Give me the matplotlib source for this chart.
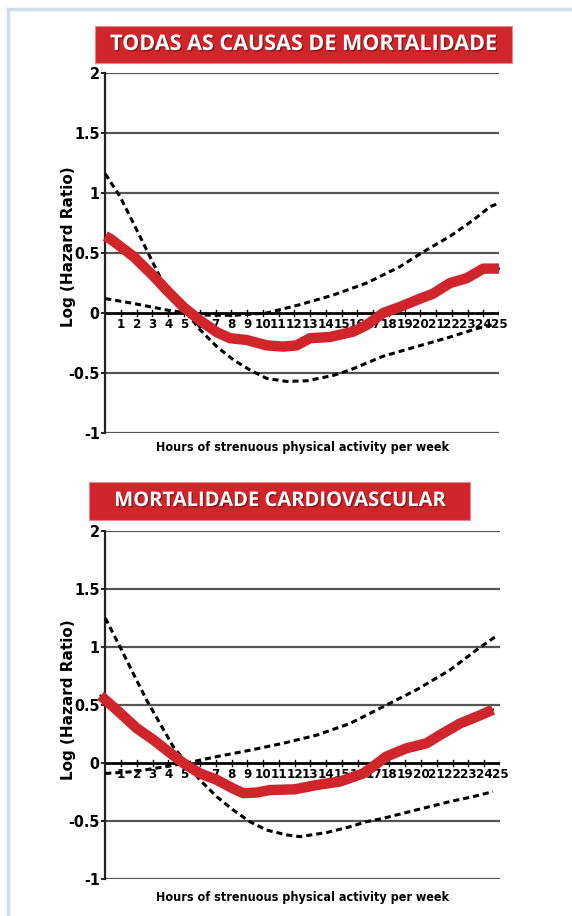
import matplotlib
matplotlib.use('Agg')
import matplotlib.pyplot as plt
import matplotlib.patheffects as pe
from matplotlib.patches import Rectangle
from matplotlib.lines import Line2D

# Panel titles
titles = ['TODAS AS CAUSAS DE MORTALIDADE', 'MORTALIDADE CARDIOVASCULAR']
x_label = 'Hours of strenuous physical activity per week'
y_label = 'Log (Hazard Ratio)'
x_ticks = list(range(1, 26))
y_ticks = [2, 1.5, 1, 0.5, 0, -0.5, -1]
y_tick_labels = ['2', '1.5', '1', '0.5', '0', '-0.5', '-1']

# All-cause mortality: estimate (red) and confidence limits (dashed)
all_est_x = [0, 0.3, 1.8, 3.05, 3.9, 4.96, 6.0, 7.08, 7.92, 8.98, 10.25, 11.3, 12.15, 13.0, 14.27, 15.75, 16.6, 17.65, 18.7, 20.0, 20.8, 21.9, 22.95, 24.0, 25]
all_est_y = [0.64, 0.62, 0.47, 0.31, 0.19, 0.05, -0.06, -0.16, -0.21, -0.225, -0.27, -0.28, -0.27, -0.21, -0.20, -0.155, -0.10, 0.0, 0.05, 0.12, 0.16, 0.25, 0.29, 0.37, 0.37]
all_ci_a_x = [0, 0.94, 1.78, 2.63, 3.48, 4.32, 5.17, 6.02, 7.08, 8.13, 9.19, 10.25, 11.5, 12.8, 14.48, 15.54, 17.65, 19.77, 21.9, 23.58, 24.85]
all_ci_a_y = [1.16, 0.97, 0.75, 0.525, 0.30, 0.135, 0.0, -0.14, -0.28, -0.39, -0.475, -0.545, -0.57, -0.565, -0.52, -0.475, -0.36, -0.28, -0.20, -0.13, -0.09]
all_ci_b_x = [0, 1.78, 3.9, 6.02, 8.13, 10.25, 12.37, 14.48, 16.6, 18.71, 20.2, 21.9, 23.37, 24.43, 24.9]
all_ci_b_y = [0.12, 0.08, 0.025, -0.017, -0.02, 0.0, 0.07, 0.15, 0.25, 0.386, 0.51, 0.64, 0.775, 0.886, 0.91]

# Cardiovascular mortality
cv_est_x = [-0.3, 0.73, 1.99, 3.05, 3.89, 4.94, 6.0, 7.06, 8.1, 8.74, 9.59, 10.43, 12.0, 13.39, 14.86, 16.34, 16.97, 17.8, 19.08, 20.35, 21.19, 22.46, 23.72, 24.56]
cv_est_y = [0.58, 0.457, 0.30, 0.20, 0.11, 0.0, -0.09, -0.145, -0.22, -0.26, -0.255, -0.233, -0.227, -0.19, -0.16, -0.09, -0.03, 0.055, 0.127, 0.17, 0.24, 0.34, 0.41, 0.46]
cv_ci_a_x = [0, 0.94, 1.78, 2.63, 3.47, 4.31, 5.16, 6.0, 7.06, 8.1, 9.16, 10.22, 11.49, 12.33, 14.02, 15.49, 16.55, 17.6, 19.7, 21.82, 23.3, 24.56]
cv_ci_a_y = [1.25, 1.0, 0.77, 0.54, 0.34, 0.14, 0.0, -0.147, -0.29, -0.405, -0.506, -0.578, -0.62, -0.635, -0.60, -0.55, -0.506, -0.477, -0.405, -0.333, -0.29, -0.247]
cv_ci_b_x = [0, 1.78, 3.89, 5.16, 7.06, 9.16, 11.27, 13.39, 15.49, 17.6, 19.7, 21.82, 23.51, 24.56, 24.9]
cv_ci_b_y = [-0.09, -0.075, -0.03, 0.0, 0.055, 0.11, 0.17, 0.24, 0.34, 0.485, 0.63, 0.80, 0.974, 1.075, 1.10]

RED = '#d0252a'
NARROW = dict(family='DejaVu Sans', stretch='condensed', fontweight='bold')

fig = plt.figure(figsize=(5.72, 9.16), dpi=100)

# light frame around the page
fig.add_artist(Line2D([8 / 572, 8 / 572], [0, 1 - 9 / 916], transform=fig.transFigure, color='#cfdde7', lw=2.5))
fig.add_artist(Line2D([8 / 572, 1], [1 - 9 / 916, 1 - 9 / 916], transform=fig.transFigure, color='#cfdde7', lw=2.5))

panels = [
    dict(rect=[0.184, 0.5273, 0.6884, 0.3930], box=[95, 26, 512, 63], title=titles[0], tsize=15.5,
         est=(all_est_x, all_est_y), ci=[(all_ci_a_x, all_ci_a_y), (all_ci_b_x, all_ci_b_y)],
         ylab_y=247, xlab_y=448),
    dict(rect=[0.184, 0.0404, 0.6900, 0.3799], box=[89, 482, 470, 520], title=titles[1], tsize=14.5,
         est=(cv_est_x, cv_est_y), ci=[(cv_ci_a_x, cv_ci_a_y), (cv_ci_b_x, cv_ci_b_y)],
         ylab_y=700, xlab_y=897),
]

for p in panels:
    ax = fig.add_axes(p['rect'])
    ax.set_xlim(0, 25)
    ax.set_ylim(-1, 2)
    for s in ['top', 'right', 'bottom']:
        ax.spines[s].set_visible(False)
    ax.spines['left'].set_linewidth(1.6)
    ax.spines['left'].set_color('#222222')

    for yv in y_ticks:
        if yv == 0:
            ax.axhline(yv, color='black', lw=2.0, zorder=2)
        else:
            ax.axhline(yv, color='#555555', lw=1.6, zorder=1)

    ax.set_yticks(y_ticks)
    ax.set_yticklabels(y_tick_labels, fontsize=11.5, **NARROW)
    ax.tick_params(axis='y', length=3, width=1.2, pad=1)
    ax.set_xticks([])

    # x tick labels sit just under the zero line
    for xv in x_ticks:
        ax.plot([xv, xv], [-0.025, 0.025], color='black', lw=1.0, zorder=3)
        ax.text(xv, -0.04, str(xv), ha='center', va='top', fontsize=9.5, zorder=3, **NARROW)

    for cx, cy in p['ci']:
        ax.plot(cx, cy, color='black', lw=2.2, ls=(0, (2, 1.3)), zorder=4, clip_on=False)

    ex, ey = p['est']
    ax.plot(ex, ey, color='black', lw=1.5, zorder=4, clip_on=False)
    ax.plot(ex, ey, color=RED, lw=7.5, solid_capstyle='butt', solid_joinstyle='round', zorder=5, clip_on=False)

    # title banner
    x0, y0, x1, y1 = p['box']
    fig.add_artist(Rectangle((x0 / 572, 1 - y1 / 916), (x1 - x0) / 572, (y1 - y0) / 916,
                             transform=fig.transFigure, facecolor=RED, edgecolor='#e88a8a', lw=0.8))
    fig.text((x0 + x1) / 2 / 572, 1 - (y0 + y1) / 2 / 916, p['title'], color='white',
             fontsize=p['tsize'], fontweight='bold', family='Open Sans', ha='center', va='center',
             path_effects=[pe.withSimplePatchShadow(offset=(1, -1), shadow_rgbFace='#5a1010', alpha=0.6)])

    fig.text(68 / 572, 1 - p['ylab_y'] / 916, y_label, rotation=90, ha='center', va='center',
             fontsize=11, fontweight='bold', family='DejaVu Sans')
    fig.text(303 / 572, 1 - p['xlab_y'] / 916, x_label, ha='center', va='center',
             fontsize=9, **NARROW)

fig.savefig('out.png', dpi=100)
